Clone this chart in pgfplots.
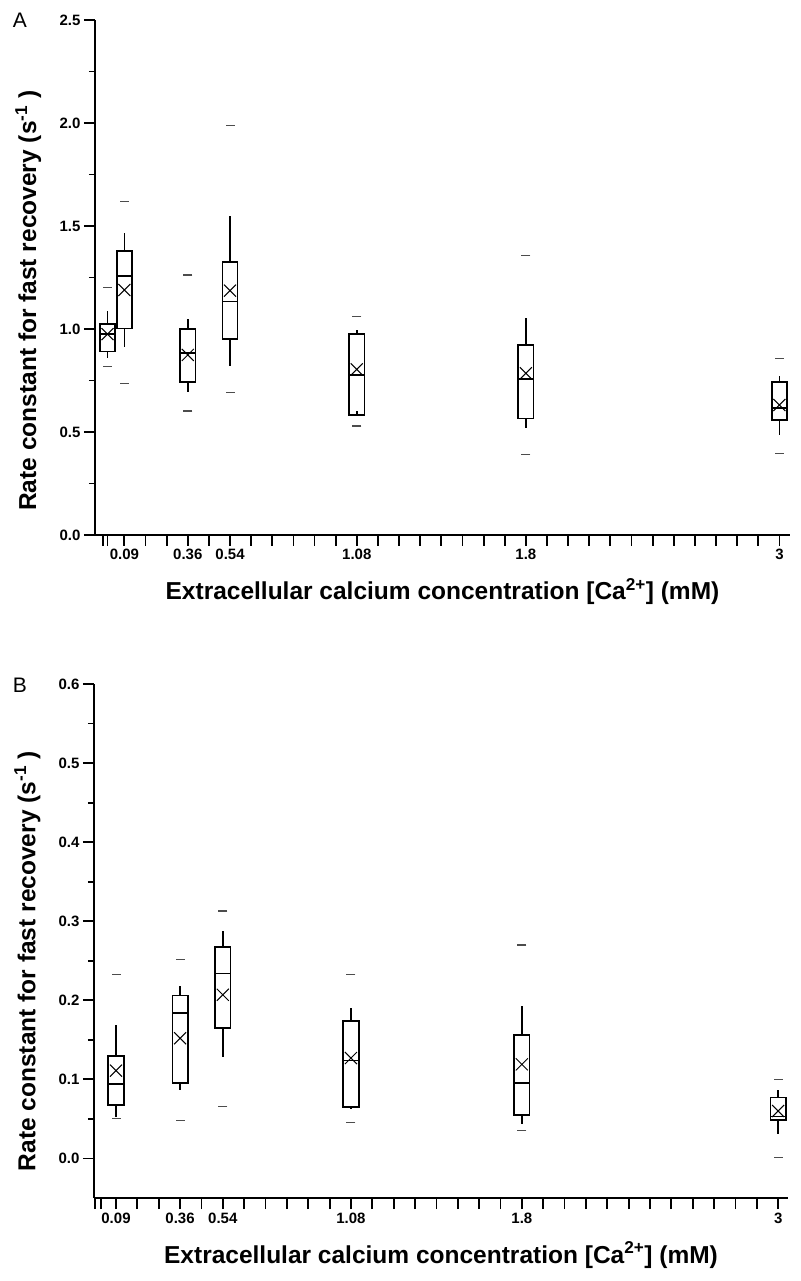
\documentclass[border=0pt]{standalone}
\usepackage{fontspec}
\setmainfont{Liberation Sans}
\usepackage{pgfplots}
\usepackage{pgfplotstable}
\pgfplotsset{compat=1.18}

% columns: position, mean, min (dash), max (dash)
\pgfplotstableread{
pos mean min max
0.2 0.975 0.816 1.200
1 1.189 0.735 1.621
4 0.874 0.602 1.262
6 1.186 0.691 1.987
12 0.804 0.529 1.062
20 0.785 0.392 1.358
32 0.631 0.397 0.858
}\dataA

\pgfplotstableread{
pos mean min max
1 0.111 0.050 0.233
4 0.152 0.048 0.252
6 0.207 0.066 0.313
12 0.127 0.045 0.233
20 0.119 0.035 0.270
32 0.060 0.001 0.0996
}\dataB

\pgfplotsset{
  panel/.style={
    scale only axis,
    axis lines=left,
    axis line style={line width=1.8pt, -},
    tick style={line width=1.8pt, black},
    tick align=outside,
    major tick length=11pt,
    minor tick length=6pt,
    clip=false,
    xtick={0,...,32},
    xticklabels={,0.09,,,0.36,,0.54,,,,,,1.08,,,,,,,,1.8,,,,,,,,,,,,3},
    tick label style={font=\fontsize{15}{18}\selectfont\bfseries},
    /pgf/number format/assume math mode=true,
    yticklabel style={/pgf/number format/.cd, fixed, fixed zerofill, precision=1},
    xlabel={Extracellular calcium concentration [Ca\textsuperscript{2+}] (mM)},
    ylabel={Rate constant for fast recovery (s\textsuperscript{-1} )},
    every axis x label/.style={at={(axis description cs:0.5,0)}, yshift=-65pt, anchor=base},
    every axis y label/.style={at={(axis description cs:-0.096,0.455)}, rotate=90, anchor=center},
    label style={font=\fontsize{24.5}{28}\selectfont\bfseries},
  },
  bx/.style={black, line width=1.7pt, solid, mark=none, line cap=rect, line join=miter},
  wh/.style={black, line width=1.7pt, solid, mark=none},
  meanx/.style={only marks, black, mark=x, mark size=8.5pt, mark options={line width=1pt}},
  dash/.style={only marks, black!70, mark=-, mark size=4.5pt, mark options={line width=1.1pt}},
}

% box: left, centre, right, lower whisker, lower quartile, median, upper quartile, upper whisker
\newcommand{\bxp}[8]{%
  \addplot[bx] coordinates {(#1,#5) (#3,#5) (#3,#7) (#1,#7) (#1,#5)};
  \addplot[bx] coordinates {(#1,#6) (#3,#6)};
  \addplot[wh] coordinates {(#2,#7) (#2,#8)};
  \addplot[wh] coordinates {(#2,#5) (#2,#4)};
}

\begin{document}
\begin{tikzpicture}
\path[use as bounding box] (0,0) rectangle (800pt,1281pt);

\node[font=\fontsize{21}{24}\selectfont] at (20pt,1261pt) {A};
\node[font=\fontsize{21}{24}\selectfont] at (20pt,595.5pt) {B};

\begin{axis}[panel, at={(95pt,746pt)}, anchor=south west, width=695pt, height=515pt,
  xmin=-0.39, xmax=32.5, ymin=0, ymax=2.5, ytick={0,0.5,1,1.5,2,2.5},
  minor ytick={0.25,0.75,1.25,1.75,2.25},
  extra x ticks={0.2}, extra x tick labels={}]
\bxp{-0.16}{0.2}{0.56}{0.861}{0.890}{0.976}{1.024}{1.087}
\bxp{0.64}{1}{1.36}{0.914}{1.003}{1.257}{1.378}{1.464}
\bxp{3.64}{4}{4.36}{0.696}{0.743}{0.885}{1.000}{1.048}
\bxp{5.64}{6}{6.36}{0.820}{0.951}{1.133}{1.325}{1.550}
\bxp{11.64}{12}{12.36}{0.600}{0.581}{0.778}{0.974}{0.995}
\bxp{19.64}{20}{20.36}{0.518}{0.565}{0.756}{0.921}{1.055}
\bxp{31.64}{32}{32.36}{0.485}{0.557}{0.615}{0.744}{0.772}
\addplot[meanx] table[x=pos, y=mean] {\dataA};
\addplot[dash] table[x=pos, y=min] {\dataA};
\addplot[dash] table[x=pos, y=max] {\dataA};
\end{axis}

\begin{axis}[panel, at={(94pt,83pt)}, anchor=south west, width=694pt, height=514pt,
  xmin=-0.03, xmax=32.46, ymin=-0.05, ymax=0.6, ytick={0,0.1,0.2,0.3,0.4,0.5,0.6},
  minor ytick={0.05,0.15,0.25,0.35,0.45,0.55},
  extra x ticks={0.3}, extra x tick labels={},
  every axis y label/.append style={at={(axis description cs:-0.096,0.461)}}]
\bxp{0.64}{1}{1.36}{0.053}{0.068}{0.094}{0.130}{0.169}
\bxp{3.64}{4}{4.36}{0.087}{0.095}{0.184}{0.206}{0.218}
\bxp{5.64}{6}{6.36}{0.128}{0.165}{0.234}{0.267}{0.288}
\bxp{11.64}{12}{12.36}{0.063}{0.065}{0.124}{0.174}{0.190}
\bxp{19.64}{20}{20.36}{0.043}{0.055}{0.095}{0.156}{0.193}
\bxp{31.64}{32}{32.36}{0.031}{0.049}{0.053}{0.077}{0.086}
\addplot[meanx] table[x=pos, y=mean] {\dataB};
\addplot[dash] table[x=pos, y=min] {\dataB};
\addplot[dash] table[x=pos, y=max] {\dataB};
\end{axis}
\end{tikzpicture}
\end{document}
